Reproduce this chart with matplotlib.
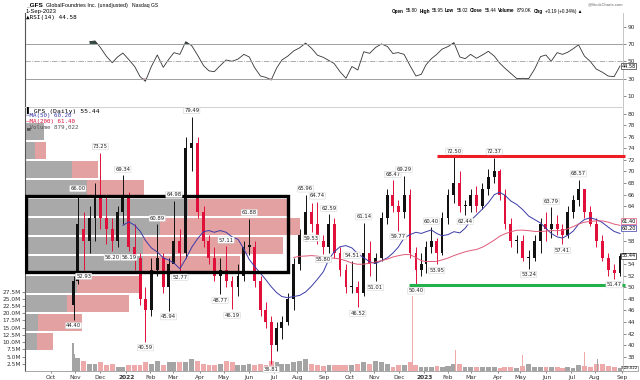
import numpy as np
import pandas as pd
import matplotlib
matplotlib.use("Agg")
import matplotlib.pyplot as plt
from matplotlib.patches import Rectangle

# exchange holidays inside the two-year window (x axis counts trading days only)
holidays = ['2021-09-06', '2021-11-25', '2021-12-24', '2022-01-17', '2022-02-21',
            '2022-04-15', '2022-05-30', '2022-06-20', '2022-07-04', '2022-09-05',
            '2022-11-24', '2022-12-26', '2023-01-02', '2023-01-16', '2023-02-20',
            '2023-04-07', '2023-05-29', '2023-06-19', '2023-07-04']
window_start = '2021-09-01'
window_end = '2023-09-01'
ipo_day = '2021-10-28'

# one candle per week (week of the given Monday)
week_monday = pd.date_range('2021-10-25', '2023-08-28', freq='W-MON')

wk_open = [47, 51, 60, 58, 62, 66, 62, 60, 58, 63,
           66, 57, 55, 48, 46, 53, 55, 50, 54, 58,
           56, 74, 75, 63, 58, 55, 52, 53, 51, 50,
           52, 57, 57, 51, 46, 44, 40, 43, 44, 48,
           54, 59, 63, 61, 58, 57, 61, 56, 53, 50,
           50, 49, 56, 54, 55, 62, 66, 64, 63, 66,
           56, 53, 54, 57, 58, 56, 62, 66, 68, 64,
           64, 66, 64, 67, 69, 70, 66, 61, 58, 58,
           55, 55, 58, 61, 60, 61, 60, 59, 63, 65,
           67, 63, 61, 58, 55, 53, 52.5]
wk_high = [52, 66.00, 63, 64, 68, 73.25, 66, 62, 64, 69.34,
           66.5, 61, 56, 50, 55, 60.89, 56, 55, 64.98, 60,
           76, 79.49, 76, 64, 59, 57, 55, 57.11, 52, 54,
           58, 61.88, 58, 52, 47.5, 45, 44, 45, 49, 55,
           60, 65.96, 64.5, 64.74, 59, 62.59, 62, 57, 54, 54.51,
           51, 61.14, 58, 56, 63, 67, 68.47, 65, 69.29, 67,
           57, 56, 58, 60.40, 58.5, 63, 67, 72.50, 70, 65,
           67, 67.5, 68, 70.5, 72.37, 70.5, 67, 62, 59, 59,
           56.5, 59, 62, 63, 63.79, 62.5, 61, 64, 66, 68.57,
           67, 64, 62, 59, 56, 54, 56]
wk_low = [44.40, 50.5, 52.93, 56, 58, 60, 57.5, 56.20, 57, 61,
          56.19, 53, 47, 40.59, 45, 52, 49, 45.94, 55, 52.77,
          55, 70, 62, 57, 54, 51, 48.77, 50, 46.19, 48.5,
          51, 55.5, 50, 45, 43, 36.81, 39, 41, 43.5, 46,
          53, 58, 59.53, 57.5, 55.80, 56, 55, 52, 49, 49,
          46.52, 48.5, 52, 51.01, 54.5, 61, 63, 59.77, 62, 55,
          50.40, 52, 52.5, 56, 53.95, 55.5, 61, 64.5, 63, 62.44,
          63, 63, 63.5, 66, 68, 65, 60, 57, 56, 54.5,
          53.24, 54.5, 56, 58, 58.5, 59, 57.41, 58.5, 62, 64,
          62, 60.5, 57, 54.5, 52, 51.47, 52]
wk_close = [51, 61, 58, 62, 66, 62, 60, 58, 63, 66,
            57, 55, 48, 46, 53, 55, 50, 54, 58, 56,
            74, 75, 63, 58, 55, 52, 53, 51, 50, 52,
            57, 57, 51, 46, 44, 40, 43, 44, 48, 54,
            59, 63, 61, 58, 57, 61, 56, 53, 50, 50,
            49, 56, 54, 55, 62, 66, 64, 63, 66, 56,
            53, 54, 57, 58, 56, 62, 66, 68, 64, 64,
            66, 64, 67, 69, 70, 66, 61, 58, 58, 55,
            55, 58, 61, 60, 61, 60, 59, 63, 65, 67,
            63, 61, 58, 55, 53, 52.5, 55.44]
# typical daily volume in each week (millions)
wk_volume = [6.0, 4.5, 3.5, 2.5, 2.5, 3.0, 2.0, 2.5, 1.5, 1.5,
             2.0, 2.0, 2.0, 3.0, 2.5, 3.5, 2.0, 3.0, 3.0, 3.0,
             3.0, 4.0, 3.5, 2.5, 2.0, 2.0, 2.5, 3.5, 3.0, 2.0,
             2.0, 2.5, 2.0, 2.5, 2.0, 3.5, 3.0, 2.5, 2.5, 3.0,
             3.5, 4.0, 2.5, 2.0, 1.8, 2.0, 2.0, 2.0, 2.0, 2.0,
             2.5, 3.0, 2.5, 3.5, 3.0, 2.5, 1.5, 2.0, 2.0, 3.0,
             2.0, 1.5, 1.5, 1.5, 1.8, 1.5, 1.8, 2.5, 2.5, 1.5,
             1.5, 1.3, 1.5, 1.3, 1.3, 1.2, 1.3, 1.3, 1.2, 1.8,
             2.5, 1.5, 1.5, 1.5, 1.5, 1.3, 1.2, 1.5, 1.2, 2.0,
             1.8, 1.5, 2.5, 2.5, 1.8, 1.5, 1.2]
# RSI(14) read at each week
wk_rsi = [np.nan, np.nan, np.nan, 72.6, 73.5, 66, 56, 48.4, 55, 59.5,
          52, 43.8, 32.3, 27, 44, 57.3, 43, 52, 60, 58,
          72.6, 68, 57, 45, 39, 38, 45, 51.5, 50, 52.5,
          58, 55, 42.7, 33, 31.5, 28.4, 42, 51.5, 56, 62,
          65.6, 71, 65, 57, 54.5, 51, 47.5, 38, 30.4, 44,
          40, 61, 59.2, 66, 70, 67, 59, 60, 58, 45,
          33, 35, 46, 53, 58, 64, 67, 71.5, 55, 53,
          58, 53.5, 57.3, 61.5, 56, 48, 42, 36, 30, 30.4,
          30, 41, 55.4, 57.3, 50, 60, 58, 60.5, 64.5, 69,
          56, 49.7, 41, 37.5, 33, 32.3, 44.58]

# single heavy-volume days
spike_day = ['2021-10-28', '2022-12-16', '2023-02-09', '2023-05-03', '2023-07-19', '2023-08-03']
spike_volume = [9.7, 26.0, 7.3, 5.5, 6.6, 4.0]
spike_up = [True, False, False, False, False, True]

# volume by price (millions), bins from the bottom
vbp_bottom = [39.0, 42.3, 45.6, 48.9, 52.2, 55.5, 58.8, 62.1, 65.4, 68.7, 72.0, 75.3]
vbp_bin = 3.3
vbp_up = [23, 26, 83, 103, 236, 236, 270, 326, 124, 94, 20, 38]
vbp_down = [33, 87, 125, 127, 194, 280, 280, 204, 114, 52, 21, 0]

# labelled swing highs / lows (week numbers)
high_weeks = [1, 5, 9, 15, 18, 21, 27, 31, 41, 43, 45, 49, 51, 56, 58, 63, 67, 74, 84, 89]
low_weeks = [0, 2, 7, 10, 13, 17, 19, 26, 28, 35, 42, 44, 50, 53, 57, 60, 64, 69, 80, 86, 95]

# last values shown in the legends
last_close = 55.44
last_ma50 = 60.20
last_ma200 = 61.40
last_rsi = 44.58
last_volume = 879022

resistance = 72.7
support = 50.4


def tday(d):
    return np.busday_count(window_start, np.asarray(d, dtype='datetime64[D]'), holidays=holidays)


mondays = week_monday.values.astype('datetime64[D]')
first = np.maximum(tday(mondays), tday(ipo_day))
last = tday(mondays + 5) - 1
wx = (first + last) / 2.0
wlen = last - first + 1
n_days = int(tday(np.datetime64(window_end) + 1))

o = np.array(wk_open, float)
h = np.array(wk_high, float)
l = np.array(wk_low, float)
c = np.array(wk_close, float)
up = c >= o
ma50 = pd.Series(c).rolling(10).mean()
ma200 = pd.Series(c).rolling(40).mean()

UPC = '#111111'
DNC = '#e0103a'
BLUE = '#3a3aa8'
PINK = '#e05a78'
FS = 4.2

fig = plt.figure(figsize=(6.4, 3.8), dpi=100)
W, H = 640.0, 380.0
renderer = fig.canvas.get_renderer()


def frame(left, top, right, bottom):
    return [left / W, 1 - bottom / H, (right - left) / W, (bottom - top) / H]


ax_rsi = fig.add_axes(frame(25, 13, 623, 107))
ax_vbp = fig.add_axes(frame(25, 107, 623, 371))
ax_vol = fig.add_axes(frame(25, 107, 623, 371))
ax = fig.add_axes(frame(25, 107, 623, 371))

p_lo, p_hi = 35.54, 81.14
xlo, xhi = -0.5, n_days - 0.5

# ---- RSI panel
r = np.array(wk_rsi)
ax_rsi.plot(wx, r, color='#333333', lw=0.6)
ax_rsi.fill_between(wx, r, 70, where=r >= 70, interpolate=True, color='#2f4a40', lw=0)
ax_rsi.fill_between(wx, r, 30, where=r <= 30, interpolate=True, color='#b83a3a', lw=0)
ax_rsi.axhline(70, color='#a0a0a0', lw=0.7)
ax_rsi.axhline(30, color='#a0a0a0', lw=0.7)
ax_rsi.axhline(50, color='#a0a0a0', lw=0.6, ls='-.')
ax_rsi.set_xlim(xlo, xhi)
ax_rsi.set_ylim(-2.7, 105.7)
ax_rsi.set_xticks([])
ax_rsi.set_yticks([10, 30, 50, 70, 90])
ax_rsi.yaxis.tick_right()
ax_rsi.tick_params(axis='y', labelsize=FS, length=2, width=0.4, pad=1.5, colors='#333333')
for side in ['top', 'bottom']:
    ax_rsi.spines[side].set_visible(False)
ax_rsi.spines['left'].set_color('#555555')
ax_rsi.spines['right'].set_color('#bbbbbb')
ax_rsi.spines['left'].set_linewidth(0.8)
ax_rsi.spines['right'].set_linewidth(0.6)

# ---- volume by price (behind everything)
ax_vbp.barh(np.array(vbp_bottom) + vbp_bin / 2, vbp_up, height=vbp_bin * 0.9, color='#a9a9a9', lw=0)
ax_vbp.barh(np.array(vbp_bottom) + vbp_bin / 2, vbp_down, left=vbp_up, height=vbp_bin * 0.9,
            color='#e3a1a1', lw=0)
ax_vbp.set_xlim(0, 1196)
ax_vbp.set_ylim(p_lo, p_hi)
ax_vbp.axis('off')

# ---- volume
vol_col = np.where(up, '#a4a4a4', '#eeaaaa')
ax_vol.bar(wx, wk_volume, width=wlen * 0.85, color=vol_col, lw=0)
ax_vol.bar(tday(spike_day), spike_volume, width=1.0,
           color=['#a4a4a4' if u else '#eeaaaa' for u in spike_up], lw=0)
ax_vol.set_xlim(xlo, xhi)
ax_vol.set_ylim(0, 91.4)
ax_vol.set_facecolor('none')
vticks = [2.5, 5, 7.5, 10, 12.5, 15, 17.5, 20, 22.5, 25, 27.5]
ax_vol.set_yticks(vticks)
ax_vol.set_yticklabels([f'{v:.1f}M' for v in vticks])
ax_vol.tick_params(axis='y', labelsize=FS, length=2, width=0.4, pad=1, colors='#333333')
ax_vol.set_xticks([])
for s in ax_vol.spines.values():
    s.set_visible(False)

# ---- price candles
ax.vlines(wx, l, h, colors=np.where(up, UPC, DNC), lw=0.7, zorder=3)
ax.bar(wx, np.maximum(np.abs(c - o), 0.25), bottom=np.minimum(o, c), width=2.4,
       color=np.where(up, UPC, DNC), lw=0, zorder=3)
ax.plot(wx, ma50, color=BLUE, lw=0.7, zorder=4)
ax.plot(wx, ma200, color=PINK, lw=0.7, zorder=4)

for w in high_weeks:
    ax.annotate(f'{h[w]:.2f}', xy=(wx[w], h[w]), xytext=(0, 2.5), textcoords='offset points',
                ha='center', va='bottom', fontsize=3.8, color='#222222', zorder=7,
                bbox=dict(boxstyle='round,pad=0.12', fc='white', ec='#c8c8c8', lw=0.3))
for w in low_weeks:
    ax.annotate(f'{l[w]:.2f}', xy=(wx[w], l[w]), xytext=(0, -2.5), textcoords='offset points',
                ha='center', va='top', fontsize=3.8, color='#222222', zorder=7,
                bbox=dict(boxstyle='round,pad=0.12', fc='white', ec='#c8c8c8', lw=0.3))

# trading range box, resistance and support
box_end = tday('2022-07-19')
ax.add_patch(Rectangle((xlo + 0.8, 52.6), box_end - xlo, 13.2, fill=False, ec='black', lw=2.4, zorder=6))
ax.plot([tday('2023-01-19'), n_days + 1.5], [resistance, resistance], color='#ee1c24', lw=2.2,
        zorder=6, clip_on=False, solid_capstyle='butt')
ax.plot([tday('2022-12-13'), n_days + 1.5], [support, support], color='#22b14c', lw=2.2,
        zorder=6, clip_on=False, solid_capstyle='butt')

ax.set_xlim(xlo, xhi)
ax.set_ylim(p_lo, p_hi)
ax.set_facecolor('none')
ax.yaxis.tick_right()
pticks = np.arange(36, 81, 2)
ax.set_yticks(pticks)
# labels hidden under the value boxes on the right edge
ax.set_yticklabels(['' if t in (36, 56, 60, 62) else str(t) for t in pticks])
ax.tick_params(axis='y', labelsize=FS, length=2, width=0.4, pad=1.5, colors='#333333')

months = pd.date_range('2021-10-01', window_end, freq='MS').values.astype('datetime64[D]')
mpos = tday(np.busday_offset(months, 0, roll='forward', holidays=holidays))
mlab = [str(pd.Timestamp(m).year) if pd.Timestamp(m).month == 1 else pd.Timestamp(m).strftime('%b')
        for m in months]
ax.set_xticks(mpos)
ax.set_xticklabels(mlab)
ax.tick_params(axis='x', labelsize=FS, length=1.5, width=0.4, pad=1.5, colors='#333333')
for t in ax.get_xticklabels():
    if t.get_text().isdigit():
        t.set_fontweight('bold')

ax.spines['left'].set_color('#555555')
ax.spines['left'].set_linewidth(0.8)
ax.spines['right'].set_color('#bbbbbb')
ax.spines['right'].set_linewidth(0.6)
ax.spines['top'].set_color('#d0d0d0')
ax.spines['top'].set_linewidth(0.7)
ax.spines['bottom'].set_color('#999999')
ax.spines['bottom'].set_linewidth(0.6)


def side_box(axis, value, text, ec, size=3.6):
    axis.annotate(text, xy=(1.0, value), xycoords=('axes fraction', 'data'), xytext=(-1.2, 0),
                  textcoords='offset points', va='center', ha='left', fontsize=size,
                  bbox=dict(boxstyle='square,pad=0.12', fc='white', ec=ec, lw=0.5),
                  annotation_clip=False, zorder=8)


side_box(ax, last_ma200, f'{last_ma200:.2f}', PINK)
side_box(ax, last_ma50, f'{last_ma50:.2f}', BLUE)
side_box(ax, last_close, f'{last_close:.2f}', '#222222')
side_box(ax_vol, last_volume / 1e6, f'{last_volume:,}', '#888888', size=2.9)
side_box(ax_rsi, last_rsi, f'{last_rsi:.2f}', '#333333')


# ---- header and legends
HEAD = 'Liberation Sans'


def ftext(x, y, s, width=None, **kw):
    kw.setdefault('fontsize', FS)
    kw.setdefault('va', 'center')
    t = fig.text(x / W, 1 - y / H, s, **kw)
    if width is not None:
        wpx = t.get_window_extent(renderer).width
        t.set_fontsize(t.get_fontsize() * width / wpx)
    return t


def text_run(x, y, parts, total):
    # parts placed one after another, then scaled so the run spans `total` pixels
    size = 4.0
    widths = []
    for s, bold in parts:
        t = fig.text(0, 0, s, fontsize=size, family=HEAD, fontweight='bold' if bold else 'normal')
        widths.append(t.get_window_extent(renderer).width)
        t.remove()
    gap = 2.0
    scale = (total - gap * (len(parts) - 1)) / sum(widths)
    cx = x
    for (s, bold), wpx in zip(parts, widths):
        ftext(cx, y, s, fontsize=size * scale, family=HEAD, fontweight='bold' if bold else 'normal')
        cx += wpx * scale + gap


ftext(26, 5, '_GFS', width=17, family=HEAD, fontweight='bold')
ftext(46, 5, 'GlobalFoundries Inc. (unadjusted)', width=82, family=HEAD)
ftext(132, 5, 'Nasdaq GS', width=26, family=HEAD)
ftext(26, 11.5, '1-Sep-2023', width=31, family=HEAD)
ftext(623, 4, '@StockCharts.com', width=36, ha='right', color='#666666', family=HEAD)
quote = [('Open', True), ('55.80', False), ('High', True), ('55.95', False),
         ('Low', True), ('55.02', False), ('Close', True), (f'{last_close:.2f}', False),
         ('Volume', True), ('879.0K', False), ('Chg', True), ('+0.19 (+0.34%) \u25b2', False)]
text_run(392, 11, quote, 191)
ftext(26, 17.5, f'\u25b2RSI(14) {last_rsi:.2f}', fontsize=4.3, family='DejaVu Sans Mono')

ftext(26, 110.5, f'\u258c_GFS (Daily) {last_close:.2f}', fontsize=4.6, family='DejaVu Sans Mono')
ftext(26, 116, f'\u2014MA(50) {last_ma50:.2f}', fontsize=4.2, family='DejaVu Sans Mono', color=BLUE)
ftext(26, 121.3, f'\u2014MA(200) {last_ma200:.2f}', fontsize=4.2, family='DejaVu Sans Mono', color=DNC)
ftext(26, 127, f'\u2583Volume {last_volume:,}', fontsize=4.2, family='DejaVu Sans Mono', color='#555555')

fig.savefig('out.png', dpi=100)
